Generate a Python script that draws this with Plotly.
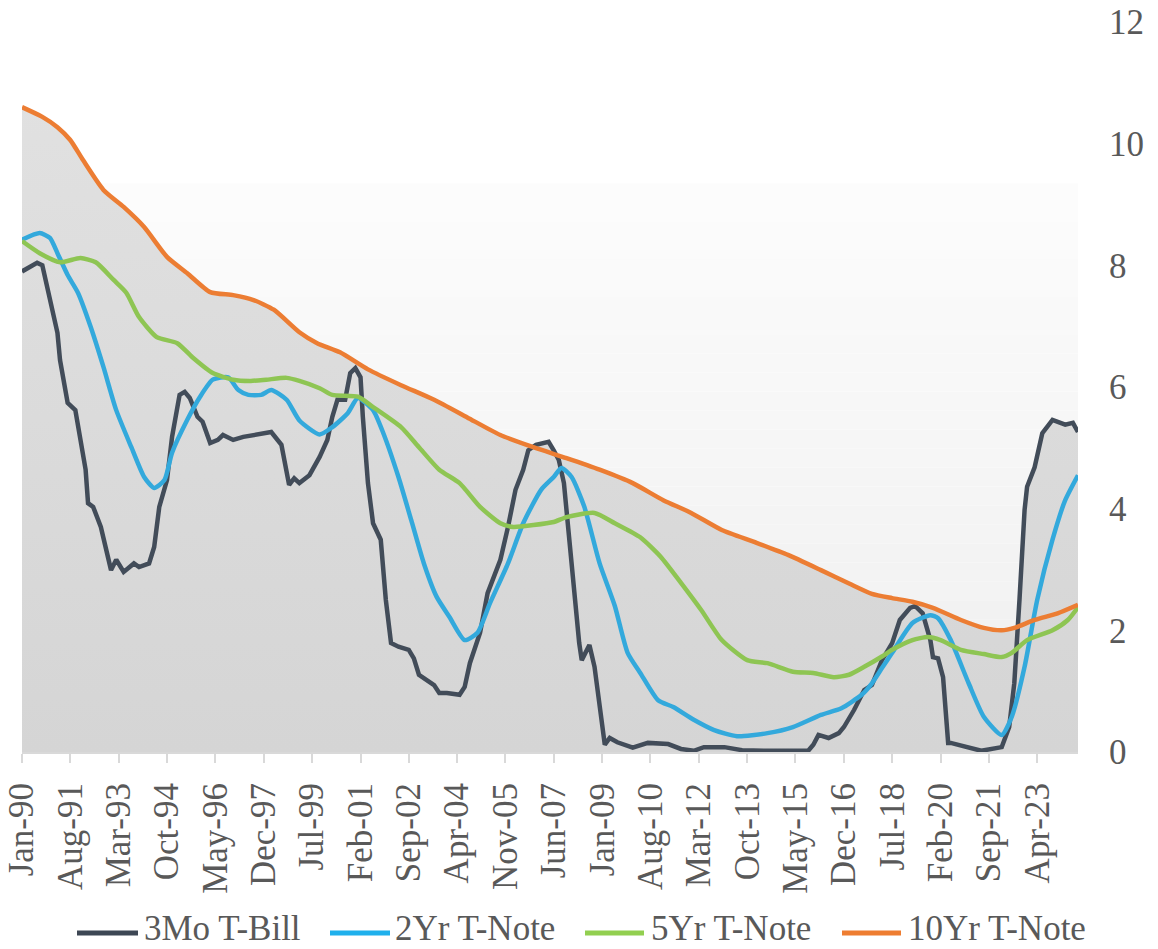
import pandas as pd
import plotly.graph_objects as go

# ---- data -------------------------------------------------------------
bill_3m_dates = [
    "1990-01", "1990-05", "1990-07", "1990-09", "1990-11", "1991-01", "1991-03", "1991-04",
    "1991-06", "1991-07", "1991-10", "1991-12", "1992-02", "1992-03", "1992-05", "1992-08",
    "1992-10", "1992-12", "1993-02", "1993-05", "1993-09", "1993-11", "1994-03", "1994-05",
    "1994-07", "1994-10", "1994-12", "1995-03", "1995-05", "1995-07", "1995-10", "1995-12",
    "1996-03", "1996-06", "1996-08", "1996-12", "1997-04", "1997-09", "1998-03", "1998-07",
    "1998-10", "1998-12", "1999-02", "1999-06", "1999-10", "2000-01", "2000-03", "2000-05",
    "2000-08", "2000-10", "2000-12", "2001-02", "2001-03", "2001-05", "2001-07", "2001-10",
    "2001-12", "2002-02", "2002-05", "2002-09", "2002-11", "2003-01", "2003-04", "2003-07",
    "2003-09", "2003-12", "2004-05", "2004-07", "2004-09", "2005-01", "2005-04", "2005-06",
    "2005-09", "2005-12", "2006-03", "2006-06", "2006-08", "2006-11", "2007-04", "2007-06",
    "2007-08", "2007-10", "2007-12", "2008-02", "2008-04", "2008-05", "2008-07", "2008-08",
    "2008-10", "2008-12", "2009-02", "2009-04", "2009-07", "2010-01", "2010-07", "2011-03",
    "2011-08", "2012-01", "2012-05", "2013-01", "2013-08", "2014-06", "2015-10", "2015-12",
    "2016-02", "2016-06", "2016-10", "2016-12", "2017-04", "2017-08", "2017-11", "2018-03",
    "2018-07", "2018-10", "2019-02", "2019-04", "2019-07", "2019-10", "2019-11", "2020-01",
    "2020-03", "2020-05", "2020-06", "2021-06", "2022-02", "2022-05", "2022-07", "2022-09",
    "2022-11", "2022-12", "2023-03", "2023-06", "2023-10", "2024-03", "2024-06", "2024-08",
]
bill_3m = [
    7.90, 8.00, 8.04, 8.00, 7.64, 7.31, 6.89, 6.44,
    6.00, 5.74, 5.62, 5.18, 4.64, 4.09, 4.03, 3.70,
    3.32, 2.99, 3.16, 2.96, 3.10, 3.04, 3.10, 3.37,
    4.03, 4.47, 5.18, 5.87, 5.92, 5.82, 5.51, 5.43,
    5.08, 5.13, 5.21, 5.13, 5.18, 5.21, 5.26, 5.05,
    4.39, 4.50, 4.42, 4.55, 4.85, 5.13, 5.51, 5.79,
    5.79, 6.23, 6.31, 6.16, 5.51, 4.42, 3.76, 3.49,
    2.50, 1.79, 1.73, 1.68, 1.54, 1.27, 1.18, 1.10,
    0.97, 0.97, 0.94, 1.07, 1.46, 1.96, 2.61, 2.83,
    3.16, 3.70, 4.31, 4.64, 4.96, 5.05, 5.10, 4.96,
    4.80, 4.42, 3.53, 2.66, 1.79, 1.51, 1.68, 1.76,
    1.40, 0.70, 0.12, 0.23, 0.16, 0.07, 0.15, 0.13,
    0.05, 0.02, 0.08, 0.08, 0.03, 0.02, 0.02, 0.12,
    0.28, 0.23, 0.31, 0.41, 0.69, 1.02, 1.10, 1.51,
    1.79, 2.17, 2.37, 2.40, 2.28, 1.84, 1.56, 1.54,
    1.23, 0.15, 0.15, 0.02, 0.08, 0.41, 1.13, 2.50,
    3.98, 4.36, 4.68, 5.24, 5.46, 5.38, 5.41, 5.26,
]

note_2y_dates = [
    "1990-01", "1990-08", "1990-12", "1991-03", "1991-07", "1991-11", "1992-04", "1992-09",
    "1993-02", "1993-08", "1994-01", "1994-05", "1994-09", "1994-12", "1995-06", "1995-11",
    "1996-04", "1996-10", "1997-02", "1997-06", "1997-11", "1998-03", "1998-09", "1999-02",
    "1999-10", "2000-03", "2000-09", "2001-01", "2001-07", "2001-11", "2002-05", "2002-10",
    "2003-03", "2003-08", "2004-01", "2004-07", "2004-12", "2005-05", "2005-12", "2006-06",
    "2007-01", "2007-06", "2007-09", "2008-01", "2008-06", "2008-12", "2009-06", "2009-11",
    "2010-04", "2010-11", "2011-05", "2012-01", "2012-09", "2013-06", "2014-06", "2015-04",
    "2016-03", "2016-11", "2017-07", "2017-11", "2018-03", "2018-07", "2019-03", "2019-10",
    "2020-01", "2020-06", "2021-01", "2021-07", "2022-02", "2022-06", "2022-11", "2023-04",
    "2023-10", "2024-03", "2024-08",
]
note_2y = [
    8.42, 8.53, 8.45, 8.20, 7.84, 7.55, 6.99, 6.33,
    5.62, 5.01, 4.52, 4.34, 4.47, 4.92, 5.46, 5.84,
    6.12, 6.16, 5.95, 5.87, 5.87, 5.95, 5.79, 5.45,
    5.22, 5.34, 5.57, 5.82, 5.62, 5.24, 4.52, 3.81,
    3.10, 2.55, 2.22, 1.84, 1.96, 2.45, 3.10, 3.76,
    4.31, 4.52, 4.67, 4.52, 4.03, 3.10, 2.40, 1.63,
    1.30, 0.85, 0.74, 0.53, 0.36, 0.26, 0.31, 0.41,
    0.61, 0.72, 0.94, 1.13, 1.38, 1.63, 2.12, 2.25,
    2.20, 1.84, 1.13, 0.58, 0.28, 0.58, 1.40, 2.50,
    3.49, 4.14, 4.55,
]

note_5y_dates = [
    "1990-01", "1990-08", "1991-04", "1991-12", "1992-06", "1993-01", "1993-06", "1993-11",
    "1994-06", "1995-02", "1995-08", "1996-04", "1996-12", "1997-07", "1998-01", "1998-09",
    "1999-02", "1999-10", "2000-03", "2001-01", "2001-07", "2002-06", "2003-01", "2003-09",
    "2004-05", "2005-01", "2005-09", "2006-02", "2006-10", "2007-06", "2007-11", "2008-10",
    "2009-06", "2010-04", "2010-12", "2011-08", "2012-04", "2012-12", "2013-10", "2014-06",
    "2015-04", "2015-12", "2016-08", "2017-02", "2017-08", "2018-03", "2018-07", "2019-03",
    "2019-09", "2020-02", "2020-10", "2021-07", "2022-02", "2022-06", "2022-12", "2023-10",
    "2024-04", "2024-08",
]
note_5y = [
    8.40, 8.20, 8.05, 8.12, 8.05, 7.76, 7.55, 7.15,
    6.82, 6.72, 6.49, 6.23, 6.12, 6.10, 6.12, 6.15,
    6.10, 5.98, 5.87, 5.84, 5.67, 5.34, 5.01, 4.64,
    4.42, 4.03, 3.76, 3.70, 3.73, 3.78, 3.86, 3.93,
    3.76, 3.53, 3.21, 2.78, 2.33, 1.84, 1.51, 1.46,
    1.32, 1.30, 1.23, 1.27, 1.40, 1.57, 1.68, 1.84,
    1.89, 1.84, 1.68, 1.61, 1.56, 1.63, 1.84, 2.00,
    2.17, 2.38,
]

note_10y_dates = [
    "1990-01", "1990-09", "1991-03", "1991-08", "1992-01", "1992-09", "1993-05", "1994-01",
    "1994-10", "1995-06", "1996-03", "1996-12", "1997-08", "1998-04", "1999-02", "1999-09",
    "2000-06", "2001-05", "2002-06", "2003-07", "2004-08", "2005-09", "2006-10", "2007-11",
    "2008-12", "2010-01", "2011-01", "2011-12", "2012-12", "2014-01", "2015-02", "2016-03",
    "2017-02", "2017-11", "2018-07", "2019-03", "2019-11", "2020-10", "2021-07", "2022-02",
    "2022-07", "2023-03", "2023-12", "2024-08",
]
note_10y = [
    10.60, 10.44, 10.27, 10.06, 9.73, 9.24, 8.96, 8.63,
    8.14, 7.87, 7.56, 7.51, 7.43, 7.27, 6.90, 6.72,
    6.57, 6.29, 6.03, 5.79, 5.50, 5.21, 5.01, 4.83,
    4.64, 4.42, 4.14, 3.93, 3.65, 3.45, 3.24, 2.99,
    2.77, 2.60, 2.53, 2.47, 2.37, 2.17, 2.04, 2.00,
    2.04, 2.17, 2.28, 2.42,
]

tick_labels = [
    "Jan-90", "Aug-91", "Mar-93", "Oct-94", "May-96", "Dec-97", "Jul-99", "Feb-01",
    "Sep-02", "Apr-04", "Nov-05", "Jun-07", "Jan-09", "Aug-10", "Mar-12", "Oct-13",
    "May-15", "Dec-16", "Jul-18", "Feb-20", "Sep-21", "Apr-23",
]
y_ticks = [0, 2, 4, 6, 8, 10, 12]

series = [
    ("3Mo T-Bill", bill_3m_dates, bill_3m, "#424c59", "linear"),
    ("2Yr T-Note", note_2y_dates, note_2y, "#33a9dc", "spline"),
    ("5Yr T-Note", note_5y_dates, note_5y, "#8ec553", "spline"),
    ("10Yr T-Note", note_10y_dates, note_10y, "#ec7d33", "spline"),
]

# ---- styling ----------------------------------------------------------
W, H = 1158, 949
M_L, M_R, M_T, M_B = 22, 80, 22, 197
PLOT_W = W - M_L - M_R
PLOT_H = H - M_T - M_B
FONT = "Times New Roman, Liberation Serif, DejaVu Serif, serif"
TEXT_COLOR = "#595959"
FONT_SIZE = 35


def px_x(px):
    return (px - M_L) / PLOT_W


def px_y(py):
    return (H - M_B - py) / PLOT_H


fig = go.Figure()

# grey area under the upper envelope of the curves (one fill per series,
# all the same opaque grey, so together they cover the area under the max)
for name, d, v, color, shape in series:
    fig.add_trace(go.Scatter(
        x=pd.to_datetime(d), y=v, mode="lines",
        line=dict(width=0, shape=shape, smoothing=0.6),
        fill="tozeroy",
        fillgradient=dict(type="vertical", start=0, stop=11,
                          colorscale=[[0, "#d5d5d5"], [1, "#e1e1e1"]]),
        hoverinfo="skip", showlegend=False,
    ))

for name, d, v, color, shape in series:
    fig.add_trace(go.Scatter(
        x=pd.to_datetime(d), y=v, mode="lines", name=name,
        line=dict(color=color, width=4.5, shape=shape, smoothing=0.6),
        showlegend=False,
    ))

# faint vertical gradient panel behind the plot
shapes = []
n_bands = 30
top_val = 9.35
for i in range(n_bands):
    t = i / (n_bands - 1)
    c = int(round(0xef + (0xfc - 0xef) * t))
    shapes.append(dict(
        type="rect", xref="paper", yref="y", layer="below",
        x0=0, x1=1, y0=top_val * i / n_bands, y1=top_val * (i + 1) / n_bands,
        fillcolor=f"rgb({c},{c},{c})", line=dict(width=0),
    ))

# legend drawn below the axis labels
legend_items = [
    ("3Mo T-Bill", "#3d4754", 77, 138, 143),
    ("2Yr T-Note", "#1fb0ec", 330, 390, 394),
    ("5Yr T-Note", "#92cf50", 585, 644, 650),
    ("10Yr T-Note", "#ee7d31", 842, 901, 907),
]
legend_line_y = px_y(933)
legend_text_bottom = px_y(949)
annotations = []
for label, color, lx0, lx1, tx in legend_items:
    shapes.append(dict(
        type="line", xref="paper", yref="paper",
        x0=px_x(lx0), x1=px_x(lx1), y0=legend_line_y, y1=legend_line_y,
        line=dict(color=color, width=5),
    ))
    annotations.append(dict(
        xref="paper", yref="paper", x=px_x(tx), y=legend_text_bottom,
        xanchor="left", yanchor="bottom", showarrow=False, text=label,
        borderpad=0,
        font=dict(family=FONT, size=FONT_SIZE, color=TEXT_COLOR),
    ))

tick_vals = [pd.to_datetime(t, format="%b-%y") for t in tick_labels]

fig.update_layout(
    width=W, height=H,
    margin=dict(l=M_L, r=M_R, t=M_T, b=M_B, autoexpand=False),
    paper_bgcolor="white", plot_bgcolor="white",
    showlegend=False,
    font=dict(family=FONT, color=TEXT_COLOR),
    shapes=shapes, annotations=annotations,
    xaxis=dict(
        type="date", range=["1990-01-01", "2024-08-01"],
        tickvals=tick_vals, ticktext=tick_labels, tickangle=-90,
        ticks="outside", ticklen=9, tickwidth=1.5, tickcolor="#d9d9d9",
        ticklabelstandoff=6,
        showline=True, linecolor="#d9d9d9", linewidth=2,
        showgrid=False, zeroline=False, automargin=False,
        tickfont=dict(family=FONT, size=FONT_SIZE, color=TEXT_COLOR),
    ),
    yaxis=dict(
        range=[0, 12], side="right", tickvals=y_ticks,
        showgrid=False, showline=False, zeroline=False, ticks="",
        ticklabelstandoff=30, automargin=False,
        tickfont=dict(family=FONT, size=FONT_SIZE, color=TEXT_COLOR),
    ),
)

fig.write_html("out.html")
